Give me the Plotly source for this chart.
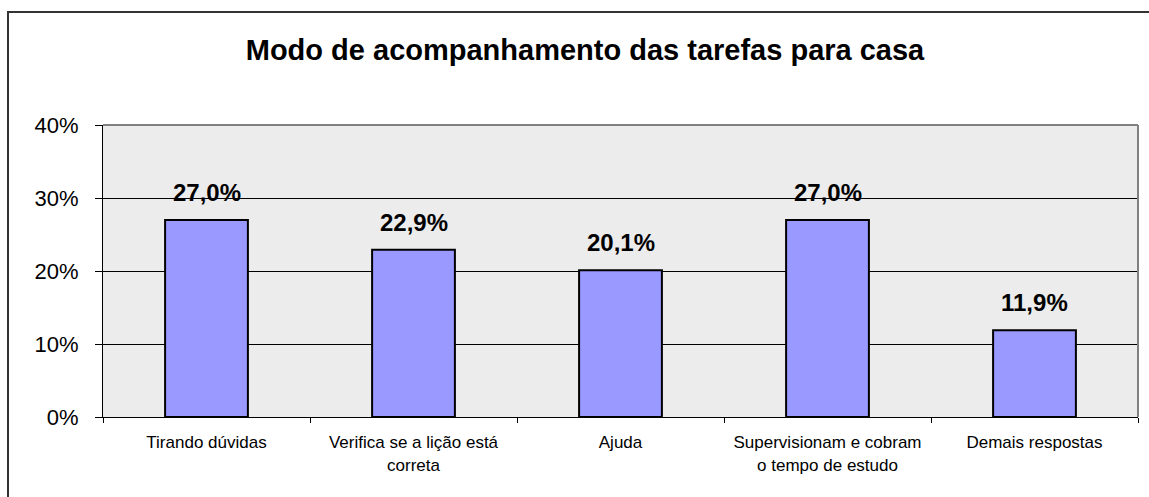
import plotly.graph_objects as go

title = "Modo de acompanhamento das tarefas para casa"
categories = ["Tirando dúvidas", "Verifica se a lição está<br>correta", "Ajuda",
              "Supervisionam e cobram<br>o tempo de estudo", "Demais respostas"]
values = [0.270, 0.229, 0.201, 0.270, 0.119]
labels = ["27,0%", "22,9%", "20,1%", "27,0%", "11,9%"]
y_ticks = [0, 0.1, 0.2, 0.3, 0.4]
y_tick_text = ["0%", "10%", "20%", "30%", "40%"]

W, H = 1149, 497
L, R, T, B = 103, 11, 125, 80
PW, PH = W - L - R, H - T - B
FONT = "Arial, Liberation Sans, sans-serif"

fig = go.Figure()
fig.add_trace(go.Bar(
    x=categories, y=values, width=0.4,
    marker=dict(color="#9999FF", line=dict(color="black", width=2)),
    hoverinfo="skip",
))
for c, v, t in zip(categories, values, labels):
    fig.add_annotation(x=c, y=v, text=f"<b>{t}</b>", showarrow=False,
                       yanchor="bottom", yshift=12,
                       font=dict(family=FONT, size=24, color="black"))

def px_x(px):
    return (px - L) / PW

def px_y(py):
    return (H - B - py) / PH

# outer frame
fig.add_shape(type="rect", xref="paper", yref="paper",
              x0=px_x(8), x1=px_x(W + 10), y0=px_y(H + 10), y1=px_y(12),
              line=dict(color="#333333", width=2), layer="below")
# gray top/right plot border
fig.add_shape(type="line", xref="paper", yref="paper", x0=0, x1=1, y0=1, y1=1,
              line=dict(color="#808080", width=2))
fig.add_shape(type="line", xref="paper", yref="paper", x0=1, x1=1, y0=0, y1=1,
              line=dict(color="#808080", width=2))

fig.update_layout(
    width=W, height=H,
    margin=dict(l=L, r=R, t=T, b=B, autoexpand=False),
    paper_bgcolor="white", plot_bgcolor="#ECECEC",
    showlegend=False,
    bargap=0.6,
    font=dict(family=FONT, color="black"),
    title=dict(text=f"<b>{title}</b>", x=(585) / W, xanchor="center",
               y=1 - 50 / H, yanchor="middle",
               font=dict(family=FONT, size=29, color="black")),
)
fig.update_xaxes(
    showline=True, linecolor="black", linewidth=1,
    ticks="outside", tickson="boundaries", ticklen=5, tickcolor="black",
    ticklabelstandoff=10,
    tickfont=dict(family=FONT, size=17, color="black"),
    showgrid=False, fixedrange=True,
)
fig.update_yaxes(
    range=[0, 0.4], tickvals=y_ticks, ticktext=y_tick_text,
    showline=True, linecolor="black", linewidth=1,
    ticks="outside", ticklen=7, tickcolor="black",
    ticklabelstandoff=12,
    tickfont=dict(family=FONT, size=22, color="black"),
    showgrid=True, gridcolor="black", gridwidth=1,
    zeroline=False, fixedrange=True,
)

fig.write_html("out.html", config={"displayModeBar": False},
               post_script="document.body.style.margin='0';document.body.style.padding='0';")
